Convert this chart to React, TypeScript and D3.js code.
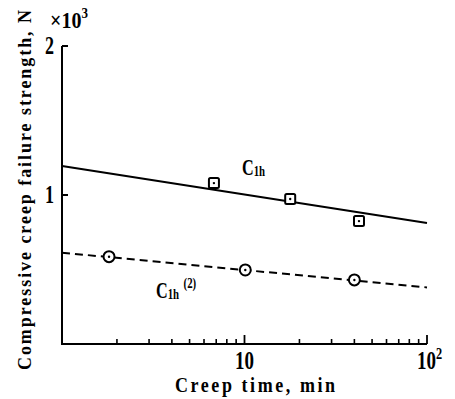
import React from "react";
import * as d3 from "d3";

// Fitted trend lines (value at t = 1 min and t = 100 min)
const lineTimes = [1, 100];
const c1hLine = [1195, 812];
const c1h2Line = [613, 380];

// Measured points
const c1hTimes = [6.8, 17.8, 42.4];
const c1hValues = [1080, 973, 825];
const c1h2Times = [1.81, 10.1, 40];
const c1h2Values = [586, 497, 430];

const yTicks = [1000, 2000];
const yTickLabels = ["1", "2"];

const W = 455;
const H = 399;
const FONT = "'Liberation Serif', 'Times New Roman', serif";

// Tall, slightly condensed lettering
const tall = (tx: number, ty: number, sy = 1.3, sx = 0.95) =>
  `translate(${tx},${ty}) scale(${sx},${sy})`;

export default function App() {
  const x = d3.scaleLog().domain([1, 100]).range([62, 427]);
  const y = d3.scaleLinear().domain([0, 2000]).range([344, 46]);

  const line = d3
    .line<[number, number]>()
    .x((d) => x(d[0]))
    .y((d) => y(d[1]));

  const solid = line(lineTimes.map((t, i) => [t, c1hLine[i]]));
  const dashed = line(lineTimes.map((t, i) => [t, c1h2Line[i]]));

  // log minor ticks 2..9, 20..90, plus majors at 10 and 100
  const minor: number[] = [];
  [1, 10].forEach((dec) => {
    for (let k = 2; k <= 9; k++) minor.push(k * dec);
  });
  const major = [10, 100];

  const y0 = y(0);

  return (
    <svg
      width={W}
      height={H}
      style={{ position: "absolute", left: 0, top: 0, background: "#fff" }}
      fontFamily={FONT}
      fontWeight="bold"
    >
      {/* axes */}
      <path
        d={`M${x(1)},${y(2000)} V${y0} H${x(100)}`}
        fill="none"
        stroke="#000"
        strokeWidth={2}
      />
      {yTicks.map((v) => (
        <line key={v} x1={x(1)} x2={x(1) + 6} y1={y(v)} y2={y(v)} stroke="#000" strokeWidth={2} />
      ))}
      {minor.map((t) => (
        <line key={t} x1={x(t)} x2={x(t)} y1={y0} y2={y0 - 5} stroke="#000" strokeWidth={1.6} />
      ))}
      {major.map((t) => (
        <line key={t} x1={x(t)} x2={x(t)} y1={y0} y2={y0 - 9} stroke="#000" strokeWidth={1.8} />
      ))}

      {/* y tick labels */}
      {yTicks.map((v, i) => (
        <text key={v} transform={tall(54, y(v) + 8)} textAnchor="end" fontSize={19}>
          {yTickLabels[i]}
        </text>
      ))}
      <text transform={tall(50, 28, 1.2, 1)} fontSize={20}>
        ×10
        <tspan dy={-8} fontSize={13}>3</tspan>
      </text>

      {/* x tick labels */}
      <text transform={tall(x(10), 369)} textAnchor="middle" fontSize={20}>
        10
      </text>
      <text transform={tall(x(100) - 10, 369)} textAnchor="start" fontSize={20}>
        10
        <tspan dy={-8} fontSize={13}>2</tspan>
      </text>

      {/* axis titles */}
      <text
        transform={tall(255, 392, 1.15, 1)}
        textAnchor="middle"
        fontSize={18}
        textLength={160}
        lengthAdjust="spacing"
      >
        Creep time, min
      </text>
      <text
        transform={`translate(31,190) rotate(-90) scale(1,1.1)`}
        textAnchor="middle"
        fontSize={18}
        textLength={360}
        lengthAdjust="spacing"
      >
        Compressive creep failure strength, N
      </text>

      {/* fitted lines */}
      <path d={solid ?? ""} fill="none" stroke="#000" strokeWidth={2} />
      <path d={dashed ?? ""} fill="none" stroke="#000" strokeWidth={2} strokeDasharray="8 5" />

      {/* square markers */}
      {c1hTimes.map((t, i) => (
        <g key={t} transform={`translate(${x(t)},${y(c1hValues[i])})`}>
          <rect x={-5} y={-5} width={10} height={10} rx={1.5} fill="#fff" stroke="#000" strokeWidth={2} />
          <circle r={1.2} fill="#000" />
        </g>
      ))}
      {/* circle markers */}
      {c1h2Times.map((t, i) => (
        <g key={t} transform={`translate(${x(t)},${y(c1h2Values[i])})`}>
          <circle r={5.5} fill="#fff" stroke="#000" strokeWidth={2} />
          <circle r={1.2} fill="#000" />
        </g>
      ))}

      {/* series labels */}
      <text transform={tall(242, 175, 1.3, 0.9)} fontSize={18}>
        C
        <tspan fontSize={12} dy={1}>1h</tspan>
      </text>
      <text transform={tall(156, 298, 1.3, 0.9)} fontSize={18}>
        C
        <tspan fontSize={12} dy={1}>1h</tspan>
        <tspan fontSize={12} dx={5} dy={-9}>(2)</tspan>
      </text>
    </svg>
  );
}
